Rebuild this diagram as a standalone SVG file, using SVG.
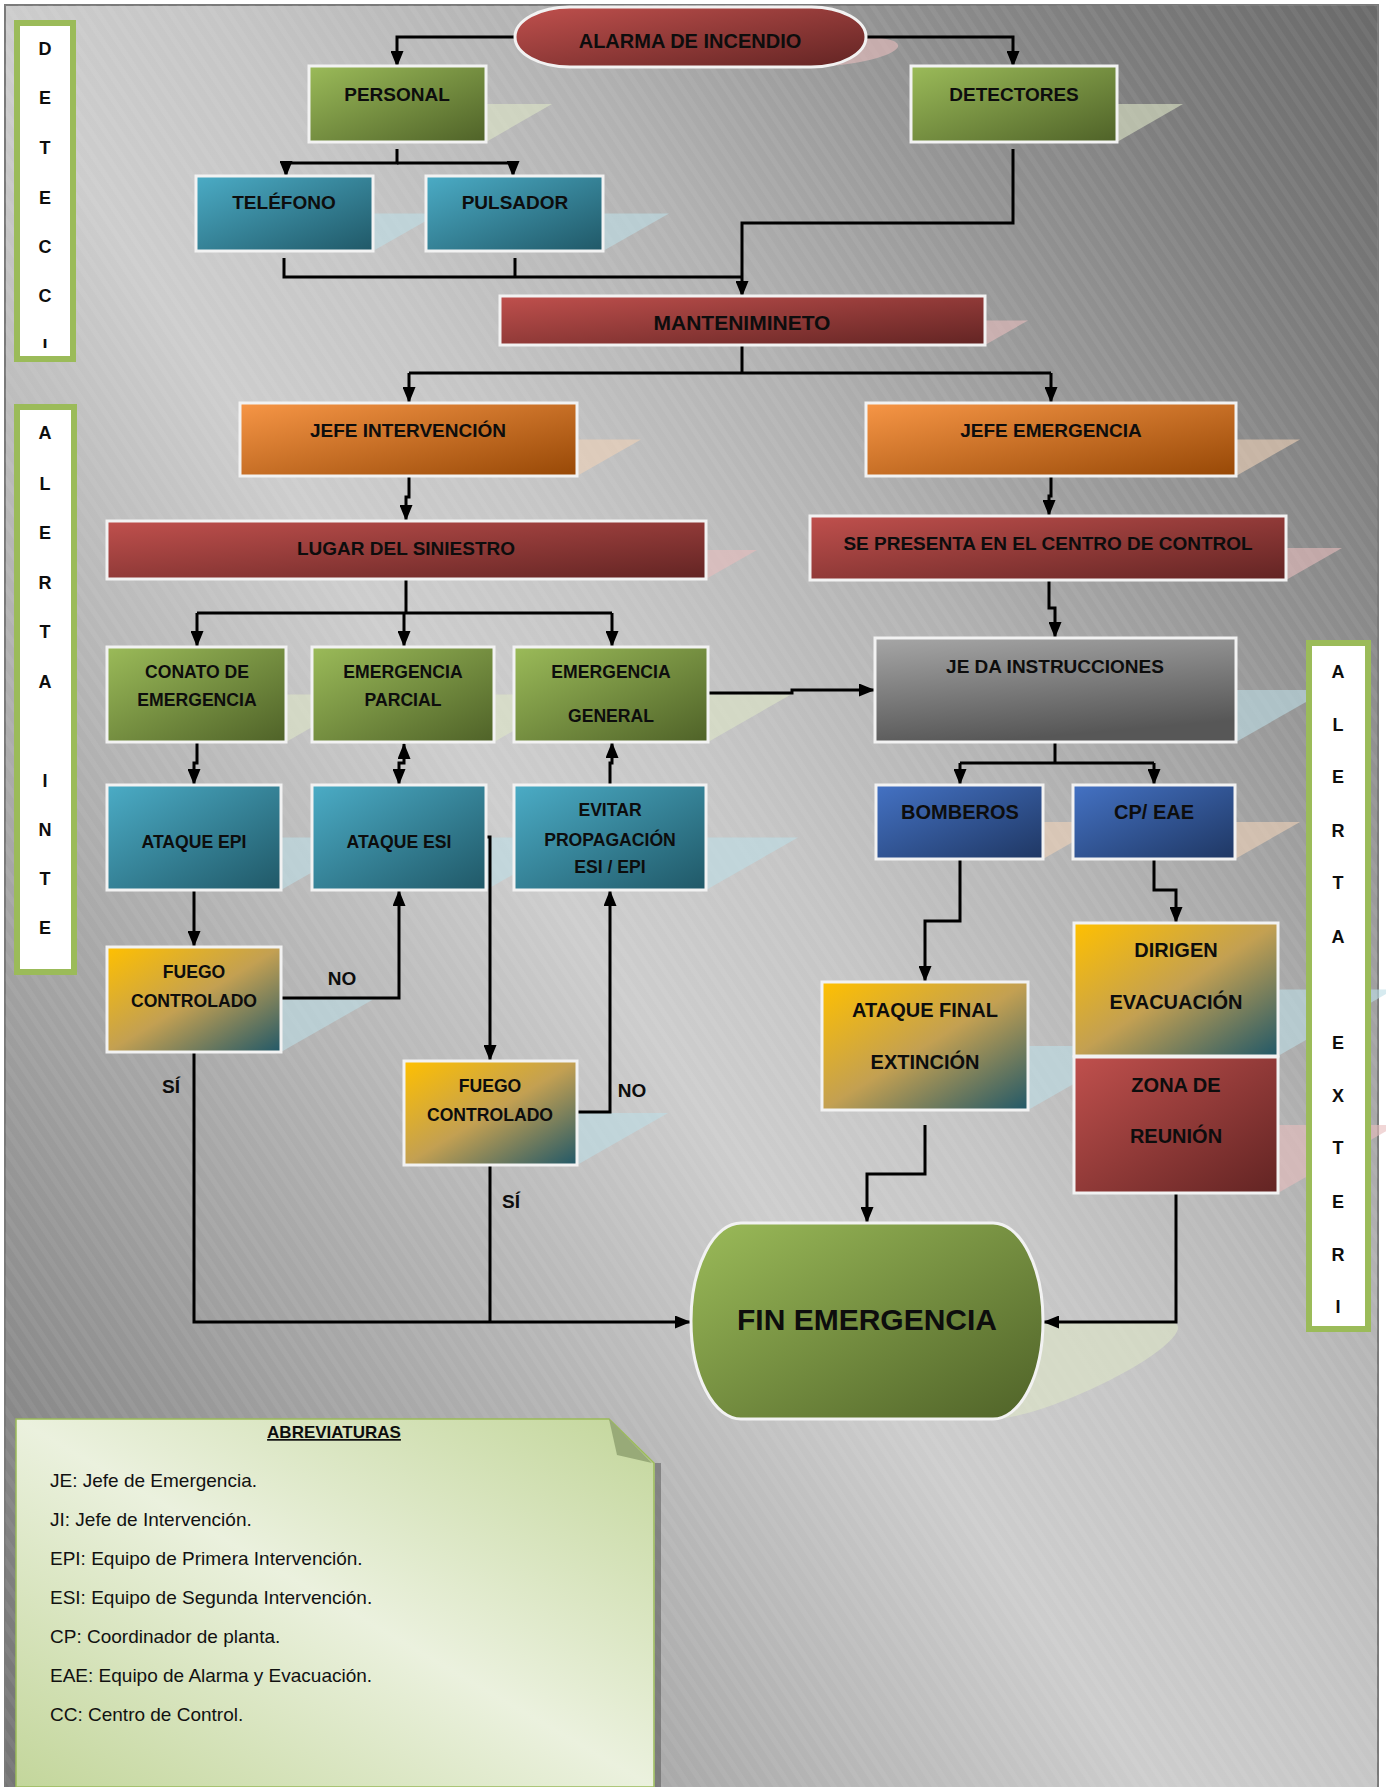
<svg xmlns="http://www.w3.org/2000/svg" width="1386" height="1787" viewBox="0 0 1386 1787">
<defs>
  <linearGradient id="bg" gradientUnits="userSpaceOnUse" x1="-205" y1="1492" x2="1594" y2="292">
    <stop offset="0" stop-color="#747474"/>
    <stop offset="0.03" stop-color="#787878"/>
    <stop offset="0.21" stop-color="#a0a0a0"/>
    <stop offset="0.447" stop-color="#cdcdcd"/>
    <stop offset="0.54" stop-color="#c6c6c6"/>
    <stop offset="0.667" stop-color="#b2b2b2"/>
    <stop offset="0.885" stop-color="#7c7c7c"/>
    <stop offset="1" stop-color="#686868"/>
  </linearGradient>
  <pattern id="stripes" width="12" height="12" patternUnits="userSpaceOnUse" patternTransform="rotate(-33.7)">
    <rect x="0" y="0" width="5" height="12" fill="#ffffff" opacity="0.05"/>
  </pattern>
  <linearGradient id="gRed" x1="0" y1="0" x2="1" y2="1">
    <stop offset="0" stop-color="#c0504d"/><stop offset="1" stop-color="#622423"/>
  </linearGradient>
  <linearGradient id="gGreen" x1="0" y1="0" x2="1" y2="1">
    <stop offset="0" stop-color="#9bbb59"/><stop offset="1" stop-color="#4f6228"/>
  </linearGradient>
  <linearGradient id="gAqua" x1="0" y1="0" x2="1" y2="1">
    <stop offset="0" stop-color="#4bacc6"/><stop offset="1" stop-color="#205867"/>
  </linearGradient>
  <linearGradient id="gOrange" x1="0" y1="0" x2="1" y2="1">
    <stop offset="0" stop-color="#f79646"/><stop offset="1" stop-color="#974806"/>
  </linearGradient>
  <linearGradient id="gBlue" x1="0" y1="0" x2="1" y2="1">
    <stop offset="0" stop-color="#4472c4"/><stop offset="1" stop-color="#1f3763"/>
  </linearGradient>
  <linearGradient id="gGray" x1="0" y1="0" x2="0.3" y2="1">
    <stop offset="0" stop-color="#a6a6a6"/><stop offset="1" stop-color="#575757"/>
  </linearGradient>
  <linearGradient id="gGold" x1="0" y1="0" x2="1" y2="1">
    <stop offset="0" stop-color="#ffc000"/>
    <stop offset="0.5" stop-color="#c3a052"/>
    <stop offset="1" stop-color="#215868"/>
  </linearGradient>
  <linearGradient id="gNote" x1="1" y1="0" x2="0" y2="1">
    <stop offset="0" stop-color="#c3d69b"/>
    <stop offset="0.5" stop-color="#ebf1de"/>
    <stop offset="1" stop-color="#c3d69b"/>
  </linearGradient>
  <marker id="ah" viewBox="0 0 16 13" refX="15" refY="6.5" markerWidth="16" markerHeight="13" markerUnits="userSpaceOnUse" orient="auto-start-reverse">
    <path d="M0,0 L16,6.5 L0,13 z" fill="#000"/>
  </marker>
  <clipPath id="clipDet">
    <rect x="17" y="23" width="56" height="325"/>
  </clipPath>
  <style>
    .box { stroke: #f2f2f2; stroke-width: 3; }
    .t { font-family: "Liberation Sans", Arial, sans-serif; font-weight: bold; fill: #0d0d0d; text-anchor: middle; }
    .s19 { font-size: 19px; }
    .s20 { font-size: 20px; }
    .s17 { font-size: 17.6px; }
    .side { font-family: "Liberation Sans", Arial, sans-serif; font-weight: bold; font-size: 18px; fill: #0d0d0d; text-anchor: middle; }
    .bar { fill: #ffffff; stroke: #9bbb59; stroke-width: 6; }
    .sh-g { fill: #dde6c6; opacity: 0.6; }
    .sh-a { fill: #bcdde6; opacity: 0.6; }
    .sh-p { fill: #f0d2b8; opacity: 0.6; }
    .sh-r { fill: #e8bcbc; opacity: 0.6; }
    .conn path { fill: none; stroke: #000; stroke-width: 3; }
    .arr { marker-end: url(#ah); }
    .leg { font-family: "Liberation Sans", Arial, sans-serif; font-size: 19px; fill: #111; }
  </style>
</defs>

<!-- page background -->
<rect x="0" y="0" width="1386" height="1787" fill="#ffffff"/>
<rect x="5" y="5" width="1373" height="1790" fill="url(#bg)" stroke="#7a7a7a" stroke-width="2"/>
<rect x="5" y="5" width="1373" height="1790" fill="url(#stripes)"/>

<!-- skewed drop shadows behind the nodes: matrix(1,0,-0.875,0.5,0.875B,0.5B) with B = node bottom -->
<g id="shadows">
  <rect class="sh-r" x="515" y="7" width="351" height="60" rx="55" ry="30" transform="matrix(1,0,-0.875,0.5,58.6,33.5)"/>
  <polygon class="sh-g" points="375,104 552,104 486,142 309,142"/>
  <polygon class="sh-g" points="977,104 1183,104 1117,142 911,142"/>
  <polygon class="sh-a" points="262,213.5 439,213.5 373,251 196,251"/>
  <polygon class="sh-a" points="492,213.5 669,213.5 603,251 426,251"/>
  <polygon class="sh-r" points="543,320.5 1028,320.5 985,345 500,345"/>
  <polygon class="sh-p" points="304,439.5 641,439.5 577,476 240,476"/>
  <polygon class="sh-p" points="930,439.5 1300,439.5 1236,476 866,476"/>
  <polygon class="sh-r" points="158,550 757,550 706,579 107,579"/>
  <polygon class="sh-r" points="866,548 1342,548 1286,580 810,580"/>
  <polygon class="sh-g" points="190,694.5 369,694.5 286,742 107,742"/>
  <polygon class="sh-g" points="395,694.5 577,694.5 494,742 312,742"/>
  <polygon class="sh-g" points="597,694.5 791,694.5 708,742 514,742"/>
  <polygon class="sh-a" points="966,690 1327,690 1236,742 875,742"/>
  <polygon class="sh-p" points="941,822 1108,822 1043,859 876,859"/>
  <polygon class="sh-p" points="1138,822 1300,822 1235,859 1073,859"/>
  <polygon class="sh-a" points="199,837.5 373,837.5 281,890 107,890"/>
  <polygon class="sh-a" points="404,837.5 578,837.5 486,890 312,890"/>
  <polygon class="sh-a" points="606,837.5 798,837.5 706,890 514,890"/>
  <polygon class="sh-a" points="199,999.5 373,999.5 281,1052 107,1052"/>
  <polygon class="sh-a" points="495,1113 668,1113 577,1165 404,1165"/>
  <polygon class="sh-a" points="934,1046 1140,1046 1028,1110 822,1110"/>
  <polygon class="sh-a" points="1190,989.5 1394,989.5 1278,1056 1074,1056"/>
  <polygon class="sh-r" points="1193,1125 1397,1125 1278,1193 1074,1193"/>
  <path class="sh-g" d="M741,1223 H993 A50,98 0 0 1 993,1419 H741 A50,98 0 0 1 741,1223 Z" transform="matrix(1,0,-0.875,0.5,1241.6,709.5)"/>
</g>

<!-- connectors -->
<g id="connectors" class="conn">
  <path class="arr" d="M515,37 H397 V66"/>
  <path class="arr" d="M865,37 H1013 V66"/>
  <path class="arr" d="M397,149 V163 H286 V176"/>
  <path class="arr" d="M397,163 H513 V176"/>
  <path d="M284,258 V277 H742"/>
  <path d="M515,258 V277"/>
  <path class="arr" d="M1013,149 V223 H742 V296"/>
  <path d="M742,345 V373"/>
  <path d="M409,373 H1051"/>
  <path class="arr" d="M409,373 V402"/>
  <path class="arr" d="M1051,373 V402"/>
  <path class="arr" d="M409,476 V497 H406 V520"/>
  <path class="arr" d="M1051,476 V496 H1049 V515"/>
  <path d="M406,579 V613"/>
  <path d="M197,613 H612"/>
  <path class="arr" d="M197,613 V646"/>
  <path class="arr" d="M404,613 V646"/>
  <path class="arr" d="M612,613 V646"/>
  <path class="arr" d="M1049,580 V608 H1055 V637"/>
  <path class="arr" d="M708,693 H792 V690 H874"/>
  <path d="M1055,742 V763"/>
  <path d="M960,763 H1154"/>
  <path class="arr" d="M960,763 V784"/>
  <path class="arr" d="M1154,763 V784"/>
  <path class="arr" d="M197,742 V763 H194 V784"/>
  <path class="arr" d="M404,744 V763 H399 V784" marker-start="url(#ah)"/>
  <path class="arr" d="M610,785 V763 H612 V743"/>
  <path class="arr" d="M194,890 V946"/>
  <path class="arr" d="M281,998 H399 V891"/>
  <path class="arr" d="M486,837 H490 V1060"/>
  <path class="arr" d="M577,1112 H610 V891"/>
  <path class="arr" d="M194,1052 V1322 H690"/>
  <path d="M490,1165 V1322"/>
  <path class="arr" d="M960,859 V921 H925 V981"/>
  <path class="arr" d="M1154,859 V890 H1176 V922"/>
  <path class="arr" d="M925,1125 V1174 H867 V1222"/>
  <path class="arr" d="M1176,1193 V1322 H1044"/>
</g>

<!-- nodes -->
<g id="alarma">
  <rect class="box" x="515" y="7" width="351" height="60" rx="55" ry="30" fill="url(#gRed)"/>
  <text class="t s20" x="690" y="48">ALARMA DE INCENDIO</text>
</g>
<g id="personal">
  <rect class="box" x="309" y="66" width="177" height="76" fill="url(#gGreen)"/>
  <text class="t s19" x="397" y="101">PERSONAL</text>
</g>
<g id="detectores">
  <rect class="box" x="911" y="66" width="206" height="76" fill="url(#gGreen)"/>
  <text class="t s19" x="1014" y="101">DETECTORES</text>
</g>
<g id="telefono">
  <rect class="box" x="196" y="176" width="177" height="75" fill="url(#gAqua)"/>
  <text class="t s19" x="284" y="209">TELÉFONO</text>
</g>
<g id="pulsador">
  <rect class="box" x="426" y="176" width="177" height="75" fill="url(#gAqua)"/>
  <text class="t s19" x="515" y="209">PULSADOR</text>
</g>
<g id="mantenimiento">
  <rect class="box" x="500" y="296" width="485" height="49" fill="url(#gRed)"/>
  <text class="t" font-size="21" x="742" y="330">MANTENIMINETO</text>
</g>
<g id="jefe-intervencion">
  <rect class="box" x="240" y="403" width="337" height="73" fill="url(#gOrange)"/>
  <text class="t s19" x="408" y="437">JEFE INTERVENCIÓN</text>
</g>
<g id="jefe-emergencia">
  <rect class="box" x="866" y="403" width="370" height="73" fill="url(#gOrange)"/>
  <text class="t s19" x="1051" y="437">JEFE EMERGENCIA</text>
</g>
<g id="lugar-siniestro">
  <rect class="box" x="107" y="521" width="599" height="58" fill="url(#gRed)"/>
  <text class="t s19" x="406" y="555">LUGAR DEL SINIESTRO</text>
</g>
<g id="centro-control">
  <rect class="box" x="810" y="516" width="476" height="64" fill="url(#gRed)"/>
  <text class="t s19" x="1048" y="550">SE PRESENTA EN EL CENTRO DE CONTROL</text>
</g>
<g id="conato">
  <rect class="box" x="107" y="647" width="179" height="95" fill="url(#gGreen)"/>
  <text class="t s17" x="197" y="678">CONATO DE</text>
  <text class="t s17" x="197" y="706">EMERGENCIA</text>
</g>
<g id="emergencia-parcial">
  <rect class="box" x="312" y="647" width="182" height="95" fill="url(#gGreen)"/>
  <text class="t s17" x="403" y="678">EMERGENCIA</text>
  <text class="t s17" x="403" y="706">PARCIAL</text>
</g>
<g id="emergencia-general">
  <rect class="box" x="514" y="647" width="194" height="95" fill="url(#gGreen)"/>
  <text class="t s17" x="611" y="678">EMERGENCIA</text>
  <text class="t s17" x="611" y="722">GENERAL</text>
</g>
<g id="je-instrucciones">
  <rect class="box" x="875" y="638" width="361" height="104" fill="url(#gGray)"/>
  <text class="t s19" x="1055" y="673">JE DA INSTRUCCIONES</text>
</g>
<g id="bomberos">
  <rect class="box" x="876" y="785" width="167" height="74" fill="url(#gBlue)"/>
  <text class="t s20" x="960" y="819">BOMBEROS</text>
</g>
<g id="cp-eae">
  <rect class="box" x="1073" y="785" width="162" height="74" fill="url(#gBlue)"/>
  <text class="t s20" x="1154" y="819">CP/ EAE</text>
</g>
<g id="ataque-epi">
  <rect class="box" x="107" y="785" width="174" height="105" fill="url(#gAqua)"/>
  <text class="t s17" x="194" y="848">ATAQUE EPI</text>
</g>
<g id="ataque-esi">
  <rect class="box" x="312" y="785" width="174" height="105" fill="url(#gAqua)"/>
  <text class="t s17" x="399" y="848">ATAQUE ESI</text>
</g>
<g id="evitar-propagacion">
  <rect class="box" x="514" y="785" width="192" height="105" fill="url(#gAqua)"/>
  <text class="t s17" x="610" y="816">EVITAR</text>
  <text class="t s17" x="610" y="846">PROPAGACIÓN</text>
  <text class="t s17" x="610" y="873">ESI / EPI</text>
</g>
<g id="fuego-controlado-1">
  <rect class="box" x="107" y="947" width="174" height="105" fill="url(#gGold)"/>
  <text class="t s17" x="194" y="978">FUEGO</text>
  <text class="t s17" x="194" y="1007">CONTROLADO</text>
</g>
<g id="fuego-controlado-2">
  <rect class="box" x="404" y="1061" width="173" height="104" fill="url(#gGold)"/>
  <text class="t s17" x="490" y="1092">FUEGO</text>
  <text class="t s17" x="490" y="1121">CONTROLADO</text>
</g>
<g id="ataque-final">
  <rect class="box" x="822" y="982" width="206" height="128" fill="url(#gGold)"/>
  <text class="t s20" x="925" y="1017">ATAQUE FINAL</text>
  <text class="t s20" x="925" y="1069">EXTINCIÓN</text>
</g>
<g id="dirigen-evacuacion">
  <rect class="box" x="1074" y="923" width="204" height="133" fill="url(#gGold)"/>
  <text class="t s20" x="1176" y="957">DIRIGEN</text>
  <text class="t s20" x="1176" y="1009">EVACUACIÓN</text>
</g>
<g id="zona-reunion">
  <rect class="box" x="1074" y="1057" width="204" height="136" fill="url(#gRed)"/>
  <text class="t s20" x="1176" y="1092">ZONA DE</text>
  <text class="t s20" x="1176" y="1143">REUNIÓN</text>
</g>
<g id="fin-emergencia">
  <path class="box" d="M741,1223 H993 A50,98 0 0 1 993,1419 H741 A50,98 0 0 1 741,1223 Z" fill="url(#gGreen)"/>
  <text class="t" font-size="30" x="867" y="1330">FIN EMERGENCIA</text>
</g>

<!-- branch labels -->
<g id="branch-labels">
  <text class="t s19" x="342" y="985">NO</text>
  <text class="t s19" x="171" y="1093">SÍ</text>
  <text class="t s19" x="632" y="1097">NO</text>
  <text class="t s19" x="511" y="1208">SÍ</text>
</g>

<!-- phase bars -->
<g id="bar-deteccion">
  <rect class="bar" x="17" y="23" width="56" height="336"/>
  <g clip-path="url(#clipDet)">
    <text class="side" x="45" y="55">D</text>
    <text class="side" x="45" y="104">E</text>
    <text class="side" x="45" y="154">T</text>
    <text class="side" x="45" y="204">E</text>
    <text class="side" x="45" y="253">C</text>
    <text class="side" x="45" y="302">C</text>
    <text class="side" x="45" y="352">I</text>
  </g>
</g>
<g id="bar-alerta-interna">
  <rect class="bar" x="17" y="407" width="57" height="565"/>
  <text class="side" x="45" y="439">A</text>
  <text class="side" x="45" y="490">L</text>
  <text class="side" x="45" y="539">E</text>
  <text class="side" x="45" y="589">R</text>
  <text class="side" x="45" y="638">T</text>
  <text class="side" x="45" y="688">A</text>
  <text class="side" x="45" y="787">I</text>
  <text class="side" x="45" y="836">N</text>
  <text class="side" x="45" y="885">T</text>
  <text class="side" x="45" y="934">E</text>
</g>
<g id="bar-alerta-exterior">
  <rect class="bar" x="1309" y="643" width="59" height="686"/>
  <text class="side" x="1338" y="678">A</text>
  <text class="side" x="1338" y="731">L</text>
  <text class="side" x="1338" y="783">E</text>
  <text class="side" x="1338" y="837">R</text>
  <text class="side" x="1338" y="889">T</text>
  <text class="side" x="1338" y="943">A</text>
  <text class="side" x="1338" y="1049">E</text>
  <text class="side" x="1338" y="1102">X</text>
  <text class="side" x="1338" y="1154">T</text>
  <text class="side" x="1338" y="1208">E</text>
  <text class="side" x="1338" y="1261">R</text>
  <text class="side" x="1338" y="1313">I</text>
</g>

<!-- abbreviations note -->
<g id="abreviaturas">
  <rect x="655" y="1463" width="6" height="324" fill="#444" opacity="0.45"/>
  <path d="M16,1419 H609 L654,1463 V1787 H16 Z" fill="url(#gNote)" stroke="#9bbb59" stroke-width="1.5"/>
  <polygon points="609,1419 617,1455 652,1463" fill="#98aa78"/>
  <text class="t" font-size="17" x="334" y="1438" text-decoration="underline">ABREVIATURAS</text>
  <text class="leg" x="50" y="1487">JE: Jefe de Emergencia.</text>
  <text class="leg" x="50" y="1526">JI: Jefe de Intervención.</text>
  <text class="leg" x="50" y="1565">EPI: Equipo de Primera Intervención.</text>
  <text class="leg" x="50" y="1604">ESI: Equipo de Segunda Intervención.</text>
  <text class="leg" x="50" y="1643">CP: Coordinador de planta.</text>
  <text class="leg" x="50" y="1682">EAE: Equipo de Alarma y Evacuación.</text>
  <text class="leg" x="50" y="1721">CC: Centro de Control.</text>
</g>
</svg>
